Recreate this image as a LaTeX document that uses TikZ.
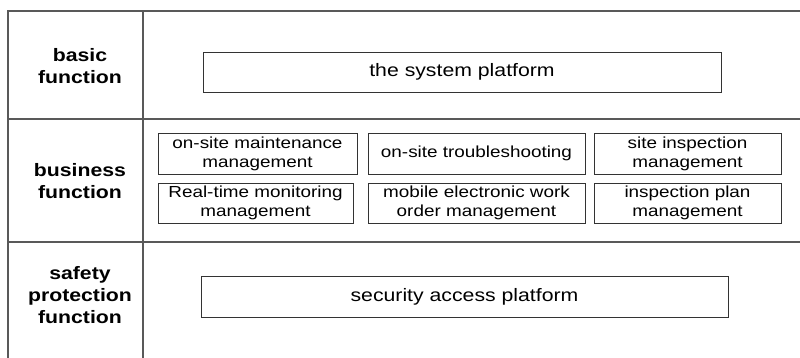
\documentclass[tikz,border=0pt]{standalone}
\usepackage{fontspec}
\setmainfont{Liberation Sans}[FakeStretch=1.18]
\definecolor{framegray}{gray}{0.35}
\definecolor{boxgray}{gray}{0.2}

\begin{document}
\begin{tikzpicture}[x=1pt,y=-1pt,
	frame/.style={draw=framegray, line width=1.4pt},
	lbl/.style={font=\fontsize{18}{22}\selectfont\bfseries, align=center, inner sep=0pt},
	bigbox/.style={draw=boxgray, line width=0.9pt, font=\fontsize{18}{22}\selectfont, minimum height=40pt, inner sep=0pt},
	subbox/.style={draw=boxgray, line width=0.9pt, font=\fontsize{16}{19}\selectfont, align=center, minimum height=40pt, inner sep=0pt}]
	\useasboundingbox (0,0) rectangle (800,358);
	% frame lines
	\draw[frame] (8,358) -- (8,11) -- (800,11);
	\draw[frame] (143,11) -- (143,358);
	\foreach \y in {119,242}
		\draw[frame] (8,\y) -- (800,\y);
	% left column
	\node[lbl] (basic) at (80,66) {basic\\function};
	\node[lbl] (business) at (80,181) {business\\function};
	\node[lbl] (safety) at (80,295) {safety\\protection\\function};
	% basic function
	\node[bigbox, minimum width=518pt] (platform) at (462,72) {the system platform};
	% business function
	\node[subbox, minimum width=199pt, minimum height=41pt] (maint) at (257.5,153.5) {on-site maintenance\\management};
	\node[subbox, minimum width=217pt, minimum height=41pt] (trouble) at (476.5,153.5) {on-site troubleshooting};
	\node[subbox, minimum width=187pt, minimum height=41pt] (inspect) at (687.5,153.5) {site inspection\\management};
	\node[subbox, minimum width=195pt] (monitor) at (255.5,203) {Real-time monitoring\\management};
	\node[subbox, minimum width=217pt] (workorder) at (476.5,203) {mobile electronic work\\order management};
	\node[subbox, minimum width=187pt] (plan) at (687.5,203) {inspection plan\\management};
	% safety protection function
	\node[bigbox, minimum width=527pt, minimum height=41pt] (access) at (464.5,296.5) {security access platform};
\end{tikzpicture}
\end{document}
